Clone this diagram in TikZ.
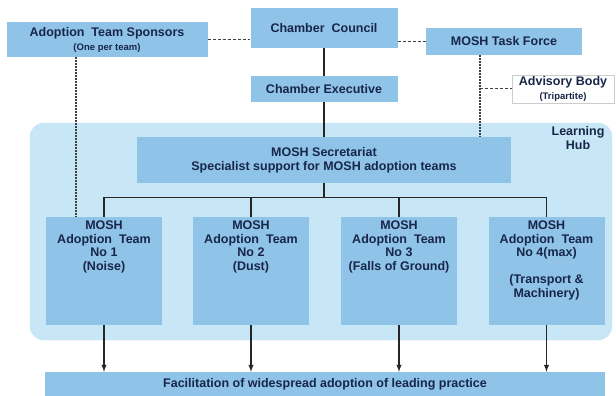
\documentclass[tikz,border=0pt]{standalone}
\usepackage{fontspec}
\setmainfont{Liberation Sans}
\usetikzlibrary{arrows}

\definecolor{boxblue}{HTML}{8FC3E8}
\definecolor{hubblue}{HTML}{C8E7F6}
\definecolor{textnavy}{HTML}{18264A}

\begin{document}
\begin{tikzpicture} [x = 1pt, y = -1pt, >=latex,
  box/.style = {fill=boxblue, text=textnavy, font=\fontsize{12.5}{14}\selectfont\bfseries, align=center, inner sep=0pt},
  team/.style = {box, minimum width=116pt, minimum height=108pt},
  link/.style = {line width=1.4pt, black!85},
  dashlink/.style = {dash pattern=on 3pt off 2pt, line width=1pt, black!75},
  dotlink/.style = {dash pattern=on 1.6pt off 1.4pt, line width=1.2pt, black!75}]

\useasboundingbox (0,0) rectangle (616,396);

% the learning hub behind the secretariat and the teams
\node[fill=hubblue, draw=boxblue!50, rounded corners=14pt, minimum width=582pt, minimum height=217pt, inner sep=0pt] (hub) at (321,231.5) {};
\node[text=textnavy, font=\fontsize{12.5}{14}\selectfont\bfseries, align=center] (hubname) at (578,138) {Learning\\Hub};

% top of the structure
\node[box, minimum width=201pt, minimum height=35pt] (sponsors) at (107,39.5) {Adoption\ \ Team Sponsors\\{\fontsize{9.5}{11}\selectfont (One per team)}};
\node[box, minimum width=147pt, minimum height=40pt] (council) at (324,28) {Chamber\ \ Council};
\node[box, minimum width=147pt, minimum height=26pt] (exec) at (324,89) {Chamber Executive};
\node[box, minimum width=156pt, minimum height=27pt] (taskforce) at (504,41.5) {MOSH Task Force};
\node[box, fill=white, draw=black!20, minimum width=102pt, minimum height=28pt] (advisory) at (563,89) {Advisory Body\\{\fontsize{9.5}{11}\selectfont (Tripartite)}};

\node[box, minimum width=374pt, minimum height=46pt] (secretariat) at (324,160) {MOSH Secretariat\\Specialist support for MOSH adoption teams};

% adoption teams
\node[team] (t1) at (104,271) {\parbox[c][100pt][t]{114pt}{\centering\baselineskip=13.5pt MOSH\\Adoption\ \ Team\\No 1\\(Noise)}};
\node[team] (t2) at (251,271) {\parbox[c][100pt][t]{114pt}{\centering\baselineskip=13.5pt MOSH\\Adoption\ \ Team\\No 2\\(Dust)}};
\node[team] (t3) at (399,271) {\parbox[c][100pt][t]{114pt}{\centering\baselineskip=13.5pt MOSH\\Adoption\ \ Team\\No 3\\(Falls of Ground)}};
\node[team] (t4) at (546.5,271) {\parbox[c][100pt][t]{114pt}{\centering\baselineskip=13.5pt MOSH\\Adoption\ \ Team\\No 4(max)\\[13.5pt](Transport \&\\Machinery)}};

\node[box, minimum width=560pt, minimum height=24pt] (fac) at (325,384) {Facilitation of widespread adoption of leading practice};

% links
\draw[dashlink] (sponsors.east) -- (sponsors.east -| council.west);
\draw[dashlink] (council.east |- taskforce.west) -- (taskforce.west);
\draw[link] (council) -- (exec);
\draw[link] (exec) -- (secretariat);

\coordinate (spdrop) at ([xshift=-31pt]sponsors.south);
\draw[dotlink] (spdrop) -- (spdrop |- t1.north);

\coordinate (tfdrop) at ([xshift=-24pt]taskforce.south);
\draw[dotlink] (tfdrop) -- (tfdrop |- secretariat.north);
\draw[dashlink] (tfdrop |- advisory.west) -- (advisory.west);

\coordinate (split) at ([yshift=-14pt]secretariat.south);
\draw[link] (secretariat) -- (split);
\foreach \t in {t1, t2, t3, t4}
  \draw[link] (split) -| (\t.north);

\foreach \t in {t1, t2, t3, t4}
  \draw[->, link] (\t.south) -- (\t.south |- fac.north);
\end{tikzpicture}
\end{document}
